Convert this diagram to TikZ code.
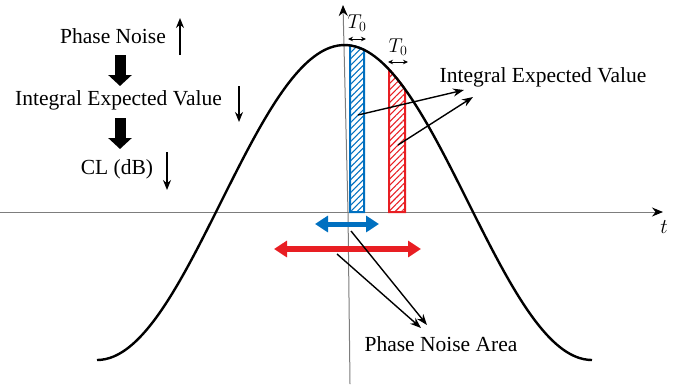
\documentclass[tikz,border=0pt]{standalone}
\usepackage{fix-cm}
\usepackage{fontspec}
\setmainfont{Liberation Serif}
\usetikzlibrary{arrows.meta,patterns.meta}
\definecolor{cblue}{RGB}{0,112,192}
\definecolor{cred}{RGB}{232,30,35}
\definecolor{axisgray}{RGB}{125,125,125}
\begin{document}
\begin{tikzpicture}[x=1pt,y=-1pt,
  declare function={cv(\x)=202.5-157.5*cos((\x-344.5)/247.5*180);},
  lbl/.style={font=\fontsize{21.5}{24}\selectfont, inner sep=0pt, anchor=center},
  tlbl/.style={font=\fontsize{20}{22}\selectfont, inner sep=0pt},
  axisline/.style={draw=axisgray, line width=1pt, -{Stealth[color=black,length=11pt,width=9pt]}},
  thinarrow/.style={black, line width=1.4pt, -{Stealth[length=10pt,width=8pt]}},
  pointer/.style={black, line width=1.4pt, -{Stealth[length=11pt,width=8pt]}},
  bigdown/.style={black, line width=11pt, -{Triangle[length=11pt,width=23pt]}},
  tzero/.style={black, line width=0.8pt, {Stealth[length=5pt,width=4.5pt]}-{Stealth[length=5pt,width=4.5pt]}},
  spread/.style={line width=#1, {Triangle[length=13pt,width=16pt]}-{Triangle[length=13pt,width=16pt]}}
]
\useasboundingbox (0,0) rectangle (694,384);

% axes
\coordinate (hl) at (0,212);
\coordinate (hr) at (663,212);
\coordinate (vb) at (350,384);
\coordinate (vm) at (348,212);
\coordinate (vt) at (343,5);
\draw[axisline] (hl) -- (hr);
\draw[axisline] (vb) -- (vm) -- (vt);
\node[font=\fontsize{21}{24}\selectfont, inner sep=0pt] (tlab) at (664,227) {$t$};

% hatched rectangles
\fill[pattern={Lines[angle=45,distance=4.5pt,line width=1.1pt]}, pattern color=cblue]
  (350,212) -- plot[domain=350:364,samples=8] (\x,{cv(\x)}) -- (364,212) -- cycle;
\draw[cblue, line width=2pt]
  (350,212) -- plot[domain=350:364,samples=8] (\x,{cv(\x)}) -- (364,212) -- cycle;
\fill[pattern={Lines[angle=45,distance=4.5pt,line width=1.1pt]}, pattern color=cred]
  (389,212) -- plot[domain=389:405,samples=8] (\x,{cv(\x)}) -- (405,212) -- cycle;
\draw[cred, line width=2pt]
  (389,212) -- plot[domain=389:405,samples=8] (\x,{cv(\x)}) -- (405,212) -- cycle;

% curve
\draw[black, line width=2.4pt] plot[domain=97:592,samples=120,smooth] (\x,{cv(\x)});

% T0 marks
\coordinate (b0l) at (348,39);
\coordinate (b0r) at (366,39);
\draw[tzero] (b0l) -- (b0r);
\node[tlbl] (tb) at (357,23) {$T_0$};
\coordinate (r0l) at (388,62);
\coordinate (r0r) at (408,62);
\draw[tzero] (r0l) -- (r0r);
\node[tlbl] (tr) at (398,47) {$T_0$};

% right label and pointers
\node[lbl] (iev) at (543,77) {Integral Expected Value};
\coordinate (ps1) at (358,115);
\coordinate (pe1) at (464,90);
\coordinate (ps2) at (398,145);
\coordinate (pe2) at (473,97);
\draw[pointer] (ps1) -- (pe1);
\draw[pointer] (ps2) -- (pe2);

% spread arrows
\coordinate (bsl) at (315,224);
\coordinate (bsr) at (379,224);
\draw[cblue, spread=5pt] (bsl) -- (bsr);
\coordinate (rsl) at (274,249);
\coordinate (rsr) at (421,249);
\draw[cred, spread=6pt] (rsl) -- (rsr);

% phase noise area
\node[lbl] (pna) at (441,344) {Phase Noise Area};
\coordinate (as1) at (351,231);
\coordinate (ae1) at (427,325);
\coordinate (as2) at (337,254);
\coordinate (ae2) at (421,328);
\draw[pointer] (as1) -- (ae1);
\draw[pointer] (as2) -- (ae2);

% left stack
\node[lbl] (pn) at (113,36) {Phase Noise};
\node[lbl] (iel) at (118.5,100) {Integral Expected Value};
\node[lbl] (cl) at (117,169) {CL (dB)};
\coordinate (u1b) at (180,55);
\coordinate (u1t) at (180,18);
\draw[thinarrow] (u1b) -- (u1t);
\coordinate (d1t) at (239,86);
\coordinate (d1b) at (239,122);
\draw[thinarrow] (d1t) -- (d1b);
\coordinate (d2t) at (167,152);
\coordinate (d2b) at (167,190);
\draw[thinarrow] (d2t) -- (d2b);
\coordinate (k1t) at (120,55);
\coordinate (k1b) at (120,86);
\draw[bigdown] (k1t) -- (k1b);
\coordinate (k2t) at (120,118);
\coordinate (k2b) at (120,149);
\draw[bigdown] (k2t) -- (k2b);
\end{tikzpicture}
\end{document}
